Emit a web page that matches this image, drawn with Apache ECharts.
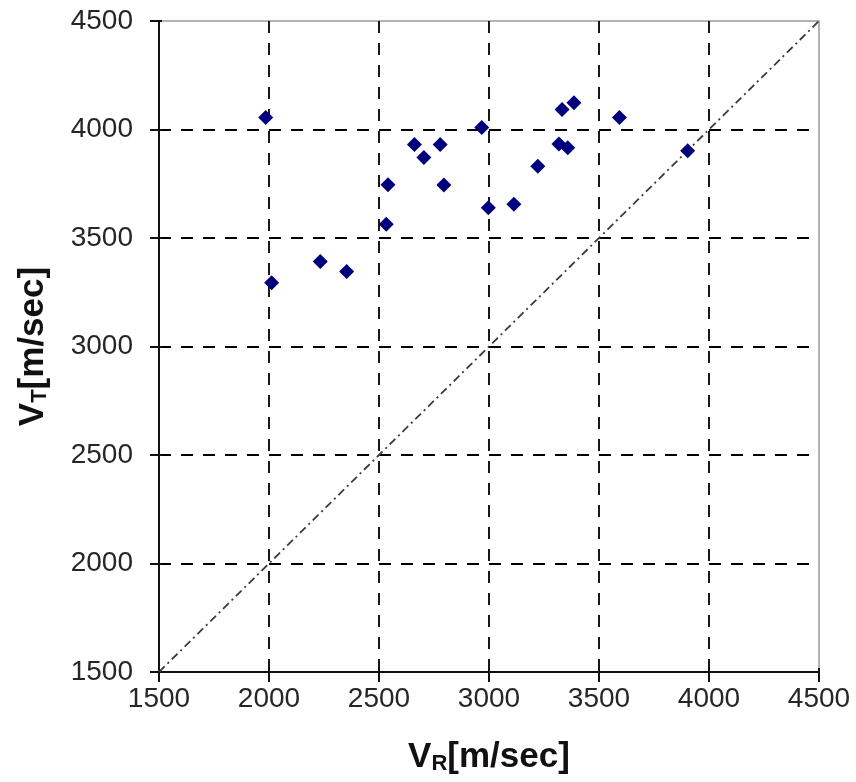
<!DOCTYPE html>
<html>
<head>
<meta charset="utf-8">
<script src="https://cdn.jsdelivr.net/npm/echarts@6/dist/echarts.min.js"></script>
<style>
  html, body { margin: 0; padding: 0; background: #fff; }
  #chart { width: 856px; height: 782px; }
</style>
</head>
<body>
<div id="chart"></div>
<script>
// Measured velocities (m/sec): V_R on the x axis, V_T on the y axis
const vR = [1985, 2012, 2233, 2353, 2541, 2533, 2661, 2704, 2778, 2795,
            2967, 2997, 3113, 3222, 3318, 3358, 3332, 3386, 3593, 3903];
const vT = [4055, 3294, 3392, 3346, 3745, 3563, 3931, 3871, 3931, 3744,
            4009, 3639, 3656, 3831, 3933, 3916, 4092, 4123, 4055, 3902];

// Axis range and tick step shared by both axes
const axisMin = 1500;
const axisMax = 4500;
const axisStep = 500;

// Reference line V_T = V_R across the full range
const equalityLine = [[axisMin, axisMin], [axisMax, axisMax]];

const points = vR.map((x, i) => [x, vT[i]]);

const FONT = '"Liberation Sans", Arial, sans-serif';

const baseAxis = {
  type: 'value',
  min: axisMin,
  max: axisMax,
  interval: axisStep
};

const plainNumber = (v) => String(v);

const mainAxisLine = { show: true, lineStyle: { color: '#111', width: 2 } };
const gridLine = {
  show: true, type: [12, 10], color: '#000', width: 1.8
};

const chart = echarts.init(document.getElementById('chart'), null, { renderer: 'canvas' });

chart.setOption({
  animation: false,
  backgroundColor: '#ffffff',
  grid: {
    left: 159, right: 37, top: 21, bottom: 110,
    outerBoundsMode: 'none',
    containLabel: false,
    show: true, borderColor: '#9a9a9a', borderWidth: 1.5
  },
  xAxis: [
    Object.assign({}, baseAxis, {
      position: 'bottom',
      axisLine: mainAxisLine,
      axisTick: { show: true, inside: false, length: 10, lineStyle: { color: '#111', width: 2 } },
      axisLabel: { margin: 13, fontSize: 28, color: '#262626', fontFamily: FONT, formatter: plainNumber },
      splitLine: { show: true, showMinLine: false, showMaxLine: false, lineStyle: gridLine },
      name: '{v|V}{s|R}{v|[m/sec]}',
      nameLocation: 'middle',
      nameGap: 67,
      nameTextStyle: {
        rich: {
          v: { fontSize: 35, fontWeight: 'bold', color: '#111', fontFamily: FONT },
          s: { fontSize: 22, fontWeight: 'bold', color: '#111', fontFamily: FONT, verticalAlign: 'bottom', padding: [14, 0, 0, 0] }
        }
      }
    }),
    Object.assign({}, baseAxis, {
      position: 'bottom',
      axisLine: { show: false },
      axisTick: { show: true, inside: true, length: 4, lineStyle: { color: '#111', width: 2 } },
      axisLabel: { show: false },
      splitLine: { show: false }
    })
  ],
  yAxis: [
    Object.assign({}, baseAxis, {
      position: 'left',
      axisLine: mainAxisLine,
      axisTick: { show: true, inside: false, length: 9, lineStyle: { color: '#111', width: 2 } },
      axisLabel: { margin: 26, fontSize: 28, color: '#262626', fontFamily: FONT, formatter: plainNumber },
      splitLine: { show: true, showMinLine: false, showMaxLine: false, lineStyle: gridLine },
      name: '{v|V}{s|T}{v|[m/sec]}',
      nameLocation: 'middle',
      nameGap: 108,
      nameRotate: 90,
      nameTextStyle: {
        rich: {
          v: { fontSize: 35, fontWeight: 'bold', color: '#111', fontFamily: FONT },
          s: { fontSize: 22, fontWeight: 'bold', color: '#111', fontFamily: FONT, verticalAlign: 'bottom', padding: [14, 0, 0, 0] }
        }
      }
    }),
    Object.assign({}, baseAxis, {
      position: 'left',
      axisLine: { show: false },
      axisTick: { show: true, inside: true, length: 3, lineStyle: { color: '#111', width: 2 } },
      axisLabel: { show: false },
      splitLine: { show: false }
    })
  ],
  series: [
    {
      type: 'line',
      data: equalityLine,
      xAxisIndex: 0,
      yAxisIndex: 0,
      symbol: 'none',
      silent: true,
      z: 3,
      lineStyle: { color: '#3a3a3a', width: 1.8, type: [8, 4, 2, 4] }
    },
    {
      type: 'scatter',
      data: points,
      xAxisIndex: 0,
      yAxisIndex: 0,
      symbol: 'diamond',
      symbolSize: 15,
      z: 4,
      itemStyle: { color: '#00007f', opacity: 1 }
    }
  ]
});
</script>
</body>
</html>
